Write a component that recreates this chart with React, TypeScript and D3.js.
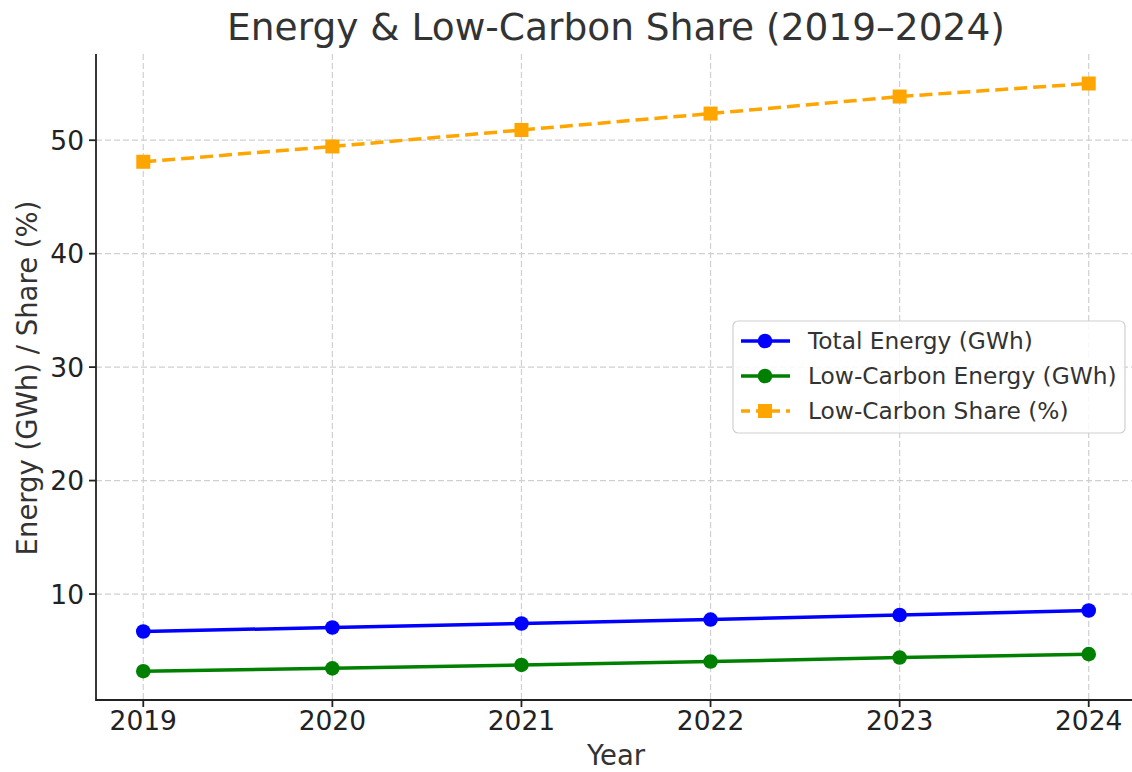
import React from "react";
import * as d3 from "d3";

const years = [2019, 2020, 2021, 2022, 2023, 2024];
const totalEnergy = [6.7, 7.05, 7.4, 7.75, 8.15, 8.55];
const lowCarbonEnergy = [3.2, 3.45, 3.75, 4.05, 4.4, 4.7];
const lowCarbonShare = [48.1, 49.45, 50.9, 52.35, 53.85, 55.0];
const yTicks = [10, 20, 30, 40, 50];

const W = 1132, H = 772;
const L = 96, R = 1136, T = 54, B = 700;
const FONT = "DejaVu Sans, sans-serif";

export default function App() {
  const x = d3.scaleLinear().domain([2018.75, 2024.25]).range([L, R]);
  const y = d3.scaleLinear().domain([0.66, 57.6]).range([B, T]);
  const line = (vals: number[]) =>
    d3.line<number>().x((_, i) => x(years[i])).y((v) => y(v))(vals) || "";

  const series = [
    { name: "Total Energy (GWh)", vals: totalEnergy, color: "#0000ff", dash: "", marker: "circle" },
    { name: "Low-Carbon Energy (GWh)", vals: lowCarbonEnergy, color: "#008000", dash: "", marker: "circle" },
    { name: "Low-Carbon Share (%)", vals: lowCarbonShare, color: "#ffa500", dash: "13,6", marker: "square" },
  ];

  const marker = (m: string, cx: number, cy: number, color: string, key: any) =>
    m === "circle" ? (
      <circle key={key} cx={cx} cy={cy} r={7.3} fill={color} />
    ) : (
      <rect key={key} x={cx - 7} y={cy - 7} width={14} height={14} fill={color} />
    );

  return (
    <div style={{ position: "absolute", left: 0, top: 0 }}>
      <svg width={W} height={H} style={{ display: "block", background: "#fff" }} fontFamily={FONT}>
        {/* grid */}
        {years.map((yr) => (
          <line key={"gx" + yr} x1={x(yr)} x2={x(yr)} y1={T} y2={B} stroke="#d0d0d0" strokeWidth={1.2} strokeDasharray="6,3" />
        ))}
        {yTicks.map((t) => (
          <line key={"gy" + t} x1={L} x2={R} y1={y(t)} y2={y(t)} stroke="#d0d0d0" strokeWidth={1.2} strokeDasharray="6,3" />
        ))}
        {/* series */}
        {series.map((s, si) => (
          <g key={si}>
            <path d={line(s.vals)} fill="none" stroke={s.color} strokeWidth={3.5} strokeDasharray={s.dash || undefined} />
            {s.vals.map((v, i) => marker(s.marker, x(years[i]), y(v), s.color, i))}
          </g>
        ))}
        {/* axes */}
        <line x1={L} x2={L} y1={T} y2={B + 0.9} stroke="#222" strokeWidth={1.8} />
        <line x1={L} x2={R} y1={B} y2={B} stroke="#222" strokeWidth={1.8} />
        {years.map((yr) => (
          <g key={"tx" + yr}>
            <line x1={x(yr)} x2={x(yr)} y1={B} y2={B + 7} stroke="#222" strokeWidth={1.8} />
            <text x={x(yr)} y={B + 30} textAnchor="middle" fontSize={26.5} fill="#222">{yr}</text>
          </g>
        ))}
        {yTicks.map((t) => (
          <g key={"ty" + t}>
            <line x1={L - 7} x2={L} y1={y(t)} y2={y(t)} stroke="#222" strokeWidth={1.8} />
            <text x={L - 12} y={y(t)} dy="0.36em" textAnchor="end" fontSize={26.5} fill="#222">{t}</text>
          </g>
        ))}
        {/* labels */}
        <text x={616} y={765} textAnchor="middle" fontSize={27.5} fill="#333">Year</text>
        <text transform={`translate(37,${378}) rotate(-90)`} textAnchor="middle" fontSize={27.5} fill="#333">
          Energy (GWh) / Share (%)
        </text>
        <text x={616} y={40} textAnchor="middle" fontSize={37.5} fill="#333">
          Energy &amp; Low-Carbon Share (2019–2024)
        </text>
        {/* legend */}
        <rect x={733} y={321} width={392} height={112} rx={5} fill="#fff" fillOpacity={0.85} stroke="#d0d0d0" strokeWidth={1.2} />
        {series.map((s, i) => {
          const ly = 341 + i * 35;
          return (
            <g key={"lg" + i}>
              <line x1={741} x2={790} y1={ly} y2={ly} stroke={s.color} strokeWidth={3.5} strokeDasharray={s.dash ? "9,6" : undefined} />
              {marker(s.marker, 765, ly, s.color, "m")}
              <text x={808} y={ly} dy="0.36em" fontSize={23.3} fill="#333">{s.name}</text>
            </g>
          );
        })}
      </svg>
    </div>
  );
}
